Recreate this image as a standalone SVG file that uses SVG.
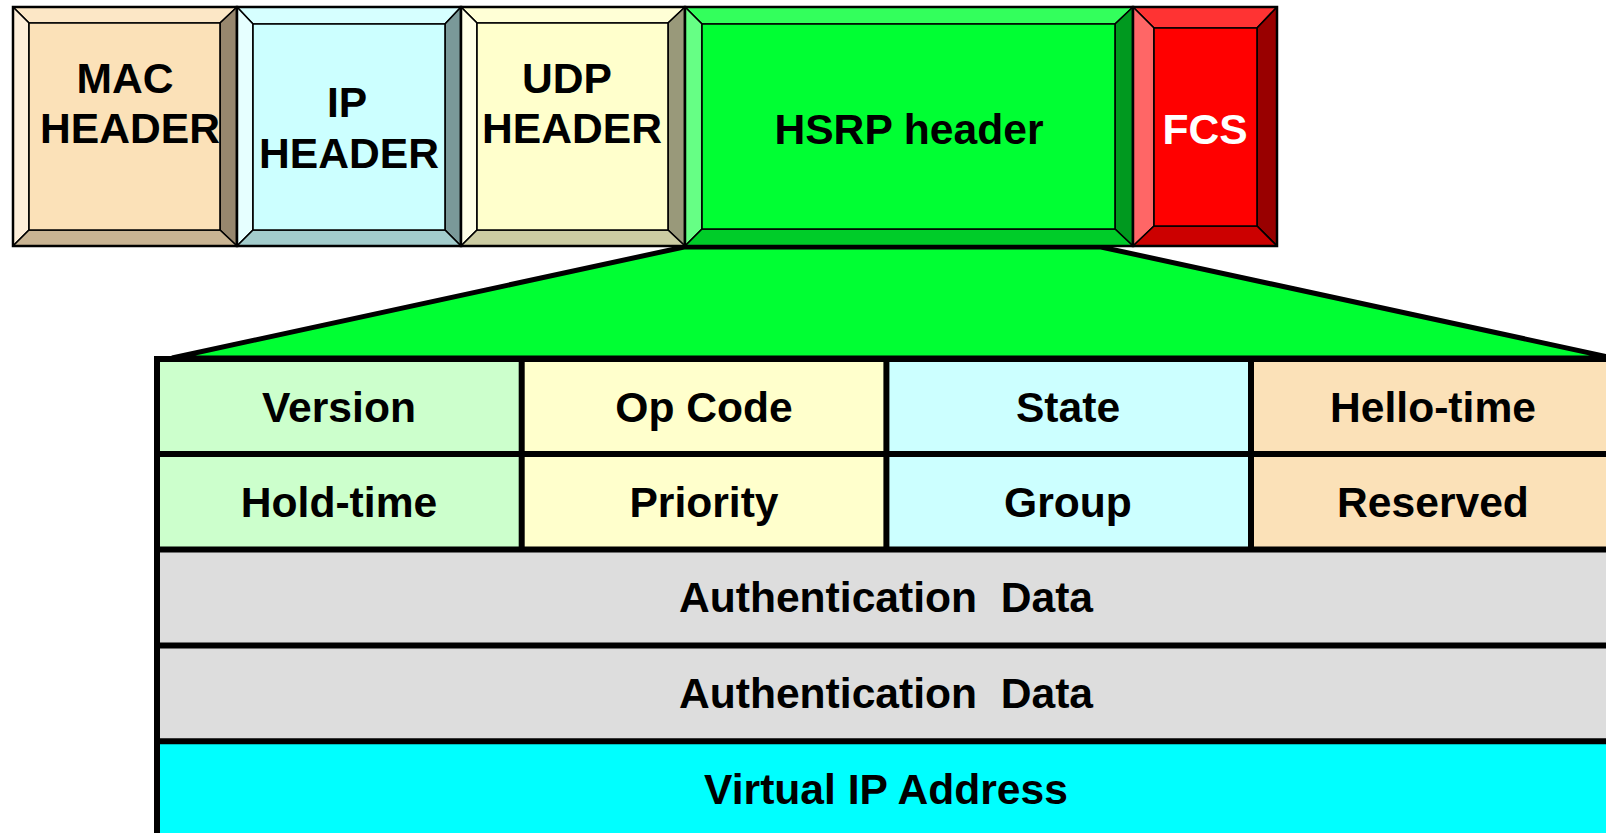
<svg xmlns="http://www.w3.org/2000/svg" width="1606" height="833" viewBox="0 0 1606 833">
<style>
.t{font-family:"Liberation Sans",Arial,sans-serif;font-weight:bold;font-size:42.6px;fill:#000;text-anchor:middle}
.w{fill:#fff}
.bv{stroke:#000;stroke-width:1.6;stroke-linejoin:round}
.ob{fill:none;stroke:#000;stroke-width:2.5}
.grid{stroke:#000;stroke-width:6;fill:none}
</style>
<rect width="1606" height="833" fill="#fff"/>

<g id="expansion">
<polygon points="684,247 1101,247 1613,358 172,358" fill="#00FF33" stroke="#000" stroke-width="5" stroke-linejoin="miter"/>
</g>

<g id="mac">
<polygon class="bv" fill="#FCE7C6" points="13,7 237,7 220,23 29,23"/>
<polygon class="bv" fill="#FEEFDA" points="13,7 29,23 29,230 13,246"/>
<polygon class="bv" fill="#97876E" points="237,7 237,246 220,230 220,23"/>
<polygon class="bv" fill="#C9B493" points="13,246 29,230 220,230 237,246"/>
<rect class="bv" fill="#FBE1B8" x="29" y="23" width="191" height="207"/>
<rect class="ob" x="13" y="7" width="224" height="239"/>
<text class="t" x="125" y="93">MAC</text>
<text class="t" x="130" y="143">HEADER</text>
</g>

<g id="ip">
<polygon class="bv" fill="#D6FFFF" points="237,7 461,7 445,24 253,24"/>
<polygon class="bv" fill="#E6FFFF" points="237,7 253,24 253,230 237,246"/>
<polygon class="bv" fill="#7A9999" points="461,7 461,246 445,230 445,24"/>
<polygon class="bv" fill="#A3CCCC" points="237,246 253,230 445,230 461,246"/>
<rect class="bv" fill="#CCFFFF" x="253" y="24" width="192" height="206"/>
<rect class="ob" x="237" y="7" width="224" height="239"/>
<text class="t" x="347" y="117">IP</text>
<text class="t" x="349" y="168">HEADER</text>
</g>

<g id="udp">
<polygon class="bv" fill="#FFFFD6" points="461,7 685,7 668,23 477,23"/>
<polygon class="bv" fill="#FFFFE6" points="461,7 477,23 477,230 461,246"/>
<polygon class="bv" fill="#99997A" points="685,7 685,246 668,230 668,23"/>
<polygon class="bv" fill="#CCCCA3" points="461,246 477,230 668,230 685,246"/>
<rect class="bv" fill="#FFFFCC" x="477" y="23" width="191" height="207"/>
<rect class="ob" x="461" y="7" width="224" height="239"/>
<text class="t" x="567" y="93">UDP</text>
<text class="t" x="572" y="143">HEADER</text>
</g>

<g id="hsrp">
<polygon class="bv" fill="#33FF5C" points="685,7 1133,7 1115,24 702,24"/>
<polygon class="bv" fill="#66FF85" points="685,7 702,24 702,229 685,246"/>
<polygon class="bv" fill="#00991F" points="1133,7 1133,246 1115,229 1115,24"/>
<polygon class="bv" fill="#00CC29" points="685,246 702,229 1115,229 1133,246"/>
<rect class="bv" fill="#00FF33" x="702" y="24" width="413" height="205"/>
<rect class="ob" x="685" y="7" width="448" height="239"/>
<text class="t" x="909" y="144">HSRP header</text>
</g>

<g id="fcs">
<polygon class="bv" fill="#FF3333" points="1133,7 1277,7 1257,28 1154,28"/>
<polygon class="bv" fill="#FF6666" points="1133,7 1154,28 1154,226 1133,246"/>
<polygon class="bv" fill="#990000" points="1277,7 1277,246 1257,226 1257,28"/>
<polygon class="bv" fill="#CC0000" points="1133,246 1154,226 1257,226 1277,246"/>
<rect class="bv" fill="#FF0000" x="1154" y="28" width="103" height="198"/>
<rect class="ob" x="1133" y="7" width="144" height="239"/>
<text class="t w" x="1205" y="144">FCS</text>
</g>

<g id="table-fills">
<rect x="157" y="359" width="365" height="190" fill="#CCFFCC"/>
<rect x="522" y="359" width="365" height="190" fill="#FFFFCC"/>
<rect x="887" y="359" width="364" height="190" fill="#CCFFFF"/>
<rect x="1251" y="359" width="365" height="190" fill="#FBE1B8"/>
<rect x="157" y="549" width="1459" height="192" fill="#DDDDDD"/>
<rect x="157" y="741" width="1459" height="100" fill="#00FFFF"/>
</g>

<g id="table-grid">
<line class="grid" x1="154" y1="359" x2="1620" y2="359" stroke-width="5"/>
<line class="grid" x1="157" y1="454" x2="1620" y2="454"/>
<line class="grid" x1="157" y1="549.5" x2="1620" y2="549.5"/>
<line class="grid" x1="157" y1="645.5" x2="1620" y2="645.5"/>
<line class="grid" x1="157" y1="741.3" x2="1620" y2="741.3"/>
<line class="grid" x1="157" y1="357" x2="157" y2="840" stroke-width="5"/>
<line class="grid" x1="521.7" y1="359" x2="521.7" y2="549.5" stroke-width="5"/>
<line class="grid" x1="886.4" y1="359" x2="886.4" y2="549.5" stroke-width="5"/>
<line class="grid" x1="1251" y1="359" x2="1251" y2="549.5" stroke-width="5"/>
</g>

<g id="f-version"><text class="t" x="339" y="422">Version</text></g>
<g id="f-opcode"><text class="t" x="704" y="422">Op Code</text></g>
<g id="f-state"><text class="t" x="1068" y="422">State</text></g>
<g id="f-hellotime"><text class="t" x="1433" y="422">Hello-time</text></g>
<g id="f-holdtime"><text class="t" x="339" y="517">Hold-time</text></g>
<g id="f-priority"><text class="t" x="704" y="517">Priority</text></g>
<g id="f-group"><text class="t" x="1068" y="517">Group</text></g>
<g id="f-reserved"><text class="t" x="1433" y="517">Reserved</text></g>
<g id="f-auth1"><text class="t" x="886" y="612" xml:space="preserve" style="white-space:pre">Authentication  Data</text></g>
<g id="f-auth2"><text class="t" x="886" y="708" xml:space="preserve" style="white-space:pre">Authentication  Data</text></g>
<g id="f-vip"><text class="t" x="886" y="804">Virtual IP Address</text></g>
</svg>
